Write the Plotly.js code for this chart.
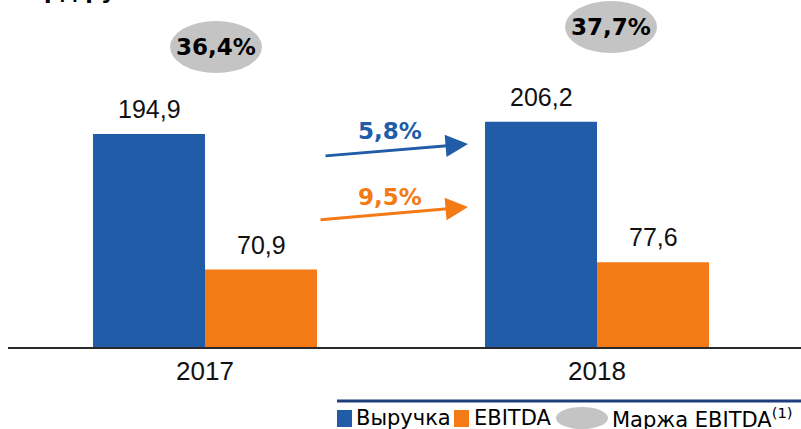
<!DOCTYPE html>
<html>
<head>
<meta charset="utf-8">
<script src="https://cdn.plot.ly/plotly-3.0.1.min.js"></script>
<style>html,body{margin:0;padding:0;background:#fff;}#chart{width:801px;height:429px;}</style>
</head>
<body>
<div id="chart"></div>
<script>
// ---- data ----
const categories = ['2017', '2018'];
const revenue = [194.9, 206.2];
const ebitda = [70.9, 77.6];
const marginLabels = ['36,4%', '37,7%'];
const growthLabels = ['5,8%', '9,5%'];
const seriesNames = ['Выручка', 'EBITDA', 'Маржа EBITDA<sup>(1)</sup>'];
const unitLabel = 'млрд руб.';

// ---- style ----
const BLUE = '#215ca9';
const ORANGE = '#f47a16';
const GRAY = '#c4c4c4';
const W = 801, H = 429;
const M = {l: 8, r: 0, t: 0, b: 82};
const PW = W - M.l - M.r, PH = H - M.t - M.b;
const px = x => (x - M.l) / PW;
const py = y => (H - M.b - y) / PH;
const fmt = v => v.toFixed(1).replace('.', ',');

const traces = [
  {type: 'bar', name: seriesNames[0], x: categories, y: revenue, marker: {color: BLUE}, hoverinfo: 'none'},
  {type: 'bar', name: seriesNames[1], x: categories, y: ebitda, marker: {color: ORANGE}, hoverinfo: 'none'}
];

const annotations = [];
const shapes = [];
const valFont = {family: 'Liberation Sans, Arial, sans-serif', size: 25, color: '#111'};
categories.forEach((c, i) => {
  annotations.push({xref: 'x', yref: 'y', x: i, y: revenue[i], xshift: -56, yshift: 9,
    xanchor: 'center', yanchor: 'bottom', text: fmt(revenue[i]), showarrow: false, font: valFont});
  annotations.push({xref: 'x', yref: 'y', x: i, y: ebitda[i], xshift: 56, yshift: 9,
    xanchor: 'center', yanchor: 'bottom', text: fmt(ebitda[i]), showarrow: false, font: valFont});
});

// margin ellipses
const ell = [[216, 47], [611, 27]];
ell.forEach((e, i) => {
  shapes.push({type: 'circle', xref: 'paper', yref: 'paper', layer: 'above',
    x0: px(e[0] - 46), x1: px(e[0] + 46), y0: py(e[1] + 26), y1: py(e[1] - 26),
    fillcolor: GRAY, line: {width: 0}});
  annotations.push({xref: 'paper', yref: 'paper', x: px(e[0]), y: py(e[1]), xanchor: 'center', yanchor: 'middle',
    text: '<b>' + marginLabels[i] + '</b>', showarrow: false,
    font: {family: 'DejaVu Sans, Verdana, sans-serif', size: 23, color: '#000'}});
});

// growth arrows
const arrows = [
  {tail: [324, 156], tip: [468, 144], color: BLUE, label: [390, 131], text: growthLabels[0]},
  {tail: [319, 220], tip: [468, 207], color: ORANGE, label: [390, 197], text: growthLabels[1]}
];
arrows.forEach(a => {
  annotations.push({xref: 'paper', yref: 'paper', x: px(a.tip[0]), y: py(a.tip[1]),
    ax: a.tail[0] - a.tip[0], ay: a.tail[1] - a.tip[1], text: '', showarrow: true,
    arrowhead: 2, arrowsize: 1.5, arrowwidth: 3, arrowcolor: a.color, standoff: 0, startstandoff: 0});
  annotations.push({xref: 'paper', yref: 'paper', x: px(a.label[0]), y: py(a.label[1]),
    xanchor: 'center', yanchor: 'middle',
    text: '<b>' + a.text + '</b>', showarrow: false,
    font: {family: 'DejaVu Sans, Verdana, sans-serif', size: 23, color: a.color}});
});

// unit label (cut at top)
annotations.push({xref: 'paper', yref: 'paper', x: px(8), y: py(6), xanchor: 'left', yanchor: 'bottom',
  text: '<b>' + unitLabel + '</b>', showarrow: false,
  font: {family: 'DejaVu Sans, Verdana, sans-serif', size: 22, color: '#000'}});

// custom legend
shapes.push({type: 'line', xref: 'paper', yref: 'paper', x0: px(337), x1: px(801), y0: py(401), y1: py(401),
  line: {color: '#1f3d7c', width: 3}});
shapes.push({type: 'rect', xref: 'paper', yref: 'paper', x0: px(337), x1: px(352), y0: py(427), y1: py(410),
  fillcolor: BLUE, line: {width: 0}});
shapes.push({type: 'rect', xref: 'paper', yref: 'paper', x0: px(454), x1: px(469), y0: py(427), y1: py(410),
  fillcolor: ORANGE, line: {width: 0}});
shapes.push({type: 'circle', xref: 'paper', yref: 'paper', x0: px(556), x1: px(608), y0: py(429), y1: py(407),
  fillcolor: GRAY, line: {width: 0}});
const legFont = {family: 'DejaVu Sans, Tahoma, sans-serif', size: 21, color: '#000'};
[[354, seriesNames[0]], [472, seriesNames[1]], [610, seriesNames[2]]].forEach(l => {
  annotations.push({xref: 'paper', yref: 'paper', x: px(l[0]), y: py(418), xanchor: 'left', yanchor: 'middle',
    text: l[1], showarrow: false, font: legFont});
});

const layout = {
  width: W, height: H,
  margin: M,
  paper_bgcolor: '#fff', plot_bgcolor: '#fff',
  showlegend: false,
  barmode: 'group', bargap: 0.4286, bargroupgap: 0,
  xaxis: {type: 'category', range: [-0.5026, 1.5204], showline: true, linecolor: '#2a2a2a', linewidth: 2,
    ticks: '', showgrid: false, zeroline: false, fixedrange: true,
    tickfont: {family: 'Liberation Sans Narrow, Arial Narrow, Liberation Sans, sans-serif', size: 26, color: '#111'}},
  yaxis: {range: [0, 317.5], visible: false, showgrid: false, zeroline: false, fixedrange: true},
  annotations: annotations,
  shapes: shapes
};

Plotly.newPlot('chart', traces, layout, {staticPlot: true, displayModeBar: false});
</script>
</body>
</html>
